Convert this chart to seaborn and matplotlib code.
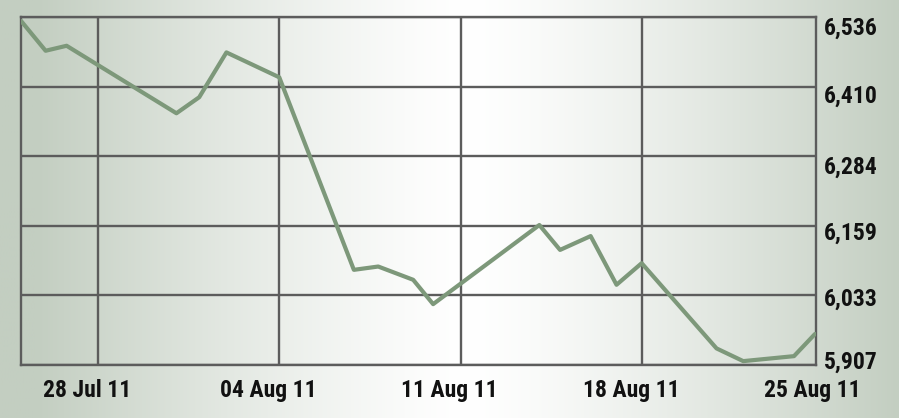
import numpy as np
import pandas as pd
import matplotlib
matplotlib.use("Agg")
import matplotlib.pyplot as plt
import matplotlib.dates as mdates
import matplotlib.transforms as mtransforms
import seaborn as sns

# index level (days counted from 28 Jul 2011)
day_offset = [-2.97, -2.02, -1.21, 3.03, 3.91, 4.96, 7.00, 9.88, 10.82, 12.17,
              12.94, 17.04, 17.84, 19.02, 20.02, 20.99, 23.88, 24.91, 26.87, 27.68]
level = [6529, 6475, 6484, 6362, 6391, 6472, 6427, 6079, 6085, 6061,
         6017, 6160, 6115, 6140, 6052, 6091, 5937, 5914, 5923, 5963]

y_ticks = [5907, 6033, 6159, 6284, 6410, 6536]
x_ticks = ["2011-07-28", "2011-08-04", "2011-08-11", "2011-08-18"]
last_label = "2011-08-25"

base = pd.Timestamp("2011-07-28")
df = pd.DataFrame({
    "date": base + pd.to_timedelta(day_offset, unit="D"),
    "level": level,
})

sns.set_theme(style="white")
plt.rcParams["font.family"] = ["Roboto Condensed", "Liberation Sans", "DejaVu Sans"]

fig = plt.figure(figsize=(8.99, 4.18), dpi=100)

# background gradient: grey-green at the edges, white in the middle
bg = fig.add_axes([0, 0, 1, 1], zorder=0)
xs = np.linspace(0, 1, 600)
t = np.clip(np.abs(xs - 0.52) / 0.48, 0, 1) ** 1.3
c_edge = np.array([195, 206, 193]) / 255
c_mid = np.array([255, 255, 255]) / 255
grad = c_mid[None, :] * (1 - t[:, None]) + c_edge[None, :] * t[:, None]
bg.imshow(grad[None, :, :], aspect="auto", extent=[0, 1, 0, 1])
bg.set_axis_off()

ax = fig.add_axes([21 / 899, 53 / 418, 795 / 899, 348 / 418], zorder=1)
ax.set_facecolor("none")

sns.lineplot(data=df, x="date", y="level", ax=ax, color="#7d987a",
             linewidth=3.0, zorder=3)

ax.set_xlim(base + pd.Timedelta(days=-2.97), base + pd.Timedelta(days=27.72))
ax.set_ylim(y_ticks[0], y_ticks[-1])
ax.set_yticks(y_ticks)
ax.set_yticklabels([f"{v:,}" for v in y_ticks])
ax.yaxis.tick_right()
ax.set_xticks(pd.to_datetime(x_ticks))
ax.xaxis.set_major_formatter(mdates.DateFormatter("%d %b %y"))

grid_c = "#5c5c5c"
ax.grid(True, color=grid_c, linewidth=1.7)
for s in ax.spines.values():
    s.set_color(grid_c)
    s.set_linewidth(1.7)

fsize = 17
x_pad = 10
ax.tick_params(axis="both", length=0, labelsize=fsize, colors="#111111")
ax.tick_params(axis="y", pad=6)
ax.tick_params(axis="x", pad=x_pad)
ax.set_xlabel("")
ax.set_ylabel("")

for lab in ax.get_yticklabels() + ax.get_xticklabels():
    lab.set_fontweight("bold")

# the original labels sit a little off their grid lines
shifts = [-5, 1, 5, 8, 7, 9]
for lab, dy in zip(ax.get_yticklabels(), shifts):
    lab.set_transform(lab.get_transform() +
                      mtransforms.ScaledTranslation(0, -dy / 100, fig.dpi_scale_trans))
for lab in ax.get_xticklabels():
    lab.set_transform(lab.get_transform() +
                      mtransforms.ScaledTranslation(-11 / 100, 0, fig.dpi_scale_trans))

last_x = mdates.date2num(pd.Timestamp(last_label))
ax.text(last_x, 0, pd.Timestamp(last_label).strftime("%d %b %y"),
        transform=ax.get_xaxis_transform() +
        mtransforms.ScaledTranslation(-11 / 100, -x_pad / 72, fig.dpi_scale_trans),
        ha="center", va="top", fontsize=fsize, fontweight="bold",
        color="#111111", clip_on=False)

fig.savefig("out.png", dpi=100)
